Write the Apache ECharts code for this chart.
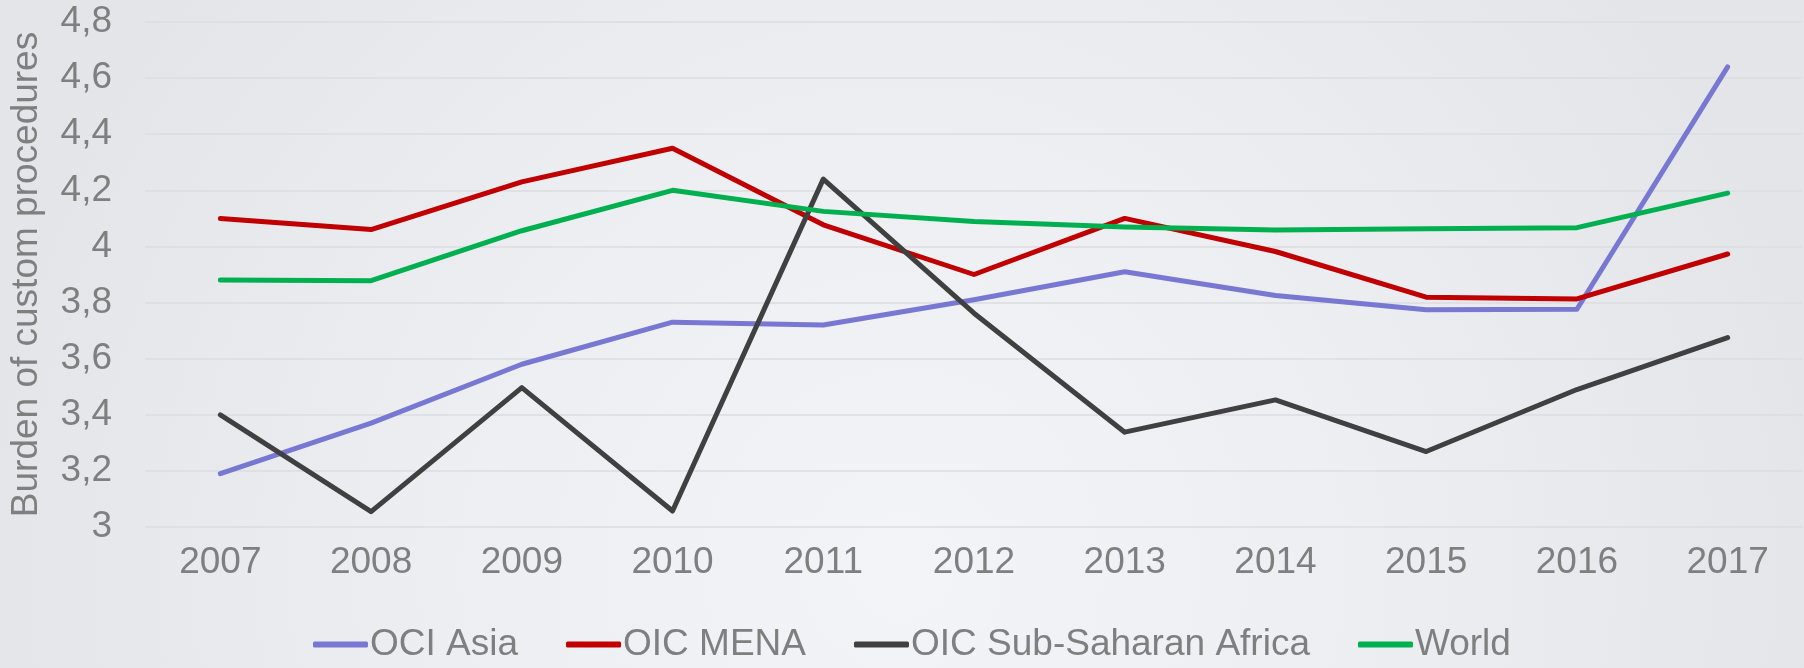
<!DOCTYPE html>
<html>
<head>
<meta charset="utf-8">
<script src="https://cdn.jsdelivr.net/npm/echarts@6/dist/echarts.min.js"></script>
<style>
  html, body { margin: 0; padding: 0; }
  #chart { width: 1804px; height: 668px; }
</style>
</head>
<body>
<div id="chart"></div>
<script>
// data
const years = ['2007', '2008', '2009', '2010', '2011', '2012', '2013', '2014', '2015', '2016', '2017'];
const ociAsia = [3.19, 3.37, 3.58, 3.73, 3.72, 3.81, 3.91, 3.825, 3.774, 3.776, 4.64];
const oicMena = [4.10, 4.06, 4.23, 4.35, 4.077, 3.90, 4.10, 3.982, 3.819, 3.813, 3.973];
const oicSsa = [3.40, 3.055, 3.497, 3.057, 4.24, 3.762, 3.338, 3.453, 3.269, 3.49, 3.675];
const world = [3.88, 3.878, 4.056, 4.20, 4.125, 4.089, 4.069, 4.059, 4.063, 4.067, 4.19];

const textColor = '#7f7f7f';
const font = 'Arial, "Liberation Sans", sans-serif';

function line(name, data, color) {
  return {
    name: name,
    type: 'line',
    data: data,
    symbol: 'none',
    lineStyle: { color: color, width: 5, cap: 'round', join: 'round' },
    itemStyle: { color: color }
  };
}

const chart = echarts.init(document.getElementById('chart'));
chart.setOption({
  animation: false,
  backgroundColor: {
    type: 'radial', x: 0.5, y: 0.85, r: 1.4,
    colorStops: [
      { offset: 0, color: '#f3f4f7' },
      { offset: 0.5, color: '#eceef1' },
      { offset: 1, color: '#e3e5e8' }
    ]
  },
  grid: { left: 141, right: 1, top: 22, bottom: 141 },
  xAxis: {
    type: 'category',
    data: years,
    boundaryGap: true,
    axisLine: { show: false },
    axisTick: { show: false },
    axisLabel: { color: textColor, fontSize: 37, fontFamily: font, margin: 17 }
  },
  yAxis: {
    type: 'value',
    min: 3,
    max: 4.8,
    interval: 0.2,
    name: 'Burden of custom procedures',
    nameLocation: 'middle',
    nameGap: 100,
    nameTextStyle: { color: textColor, fontSize: 37, fontFamily: font },
    axisLine: { show: false },
    axisTick: { show: false },
    axisLabel: {
      color: textColor, fontSize: 37, fontFamily: font, margin: 33,
      formatter: v => String(+v.toFixed(1)).replace('.', ',')
    },
    splitLine: { lineStyle: { color: '#dcdde0', width: 1.5 } }
  },
  legend: {
    bottom: 0,
    left: 308,
    itemWidth: 55,
    itemHeight: 6,
    itemGap: 48,
    icon: 'roundRect',
    textStyle: { color: textColor, fontSize: 37, fontFamily: font, padding: [0, 0, 0, -3] },
    data: ['OCI Asia', 'OIC MENA', 'OIC Sub-Saharan Africa', 'World']
  },
  series: [
    line('OCI Asia', ociAsia, '#7878d3'),
    line('OIC MENA', oicMena, '#c00000'),
    line('OIC Sub-Saharan Africa', oicSsa, '#404040'),
    line('World', world, '#00b050')
  ]
});
</script>
</body>
</html>
